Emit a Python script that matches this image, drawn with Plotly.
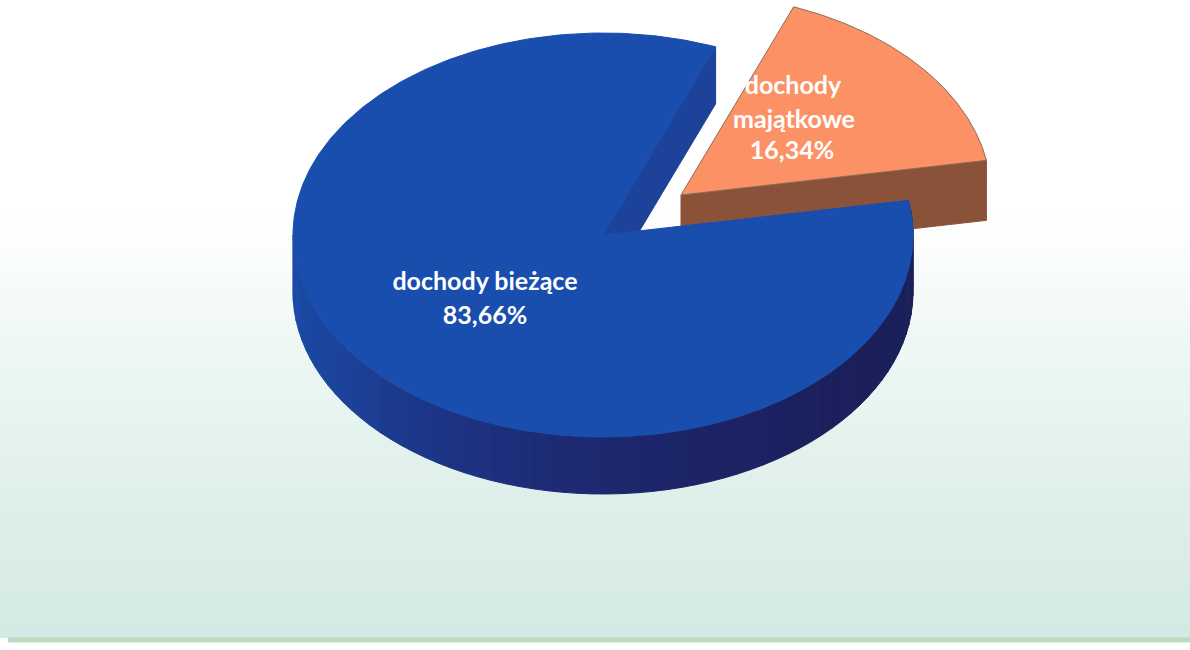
import numpy as np
import plotly.graph_objects as go

categories = ["dochody bieżące", "dochody majątkowe"]
values = [83.66, 16.34]

W, H = 1190, 650
CX, CY = 603, 235        # pie centre on the canvas
RX, RY = 310, 202        # tilted pie radii
DEPTH = 57
START = 21.3             # degrees clockwise from top where the small slice starts
EXPLODE = (78, -40)

TOP_BLUE = "#194eae"
WALL_BLUE = "#1c4399"
TOP_ORANGE = "#fd9166"
SIDE_ORANGE = "#8a5238"
EDGE_ORANGE = "#8c6a58"

sweep_small = values[1] / 100 * 360
end_small = START + sweep_small
end_big = START + 360


def rim(t_deg, cx, cy):
    t = np.radians(t_deg)
    return cx + RX * np.sin(t), cy - RY * np.cos(t)


def arc(a, b, cx, cy, n=120):
    return rim(np.linspace(a, b, n), cx, cy)


def poly(x, y, fill, line=None, lw=1):
    return go.Scatter(
        x=list(x) + [x[0]], y=list(y) + [y[0]], mode="lines", fill="toself",
        fillcolor=fill, line=dict(color=line or fill, width=lw),
        hoverinfo="skip", showlegend=False,
    )


fig = go.Figure()

# paper background
bg_y = [0, 200, 250, 300, 350, 400, 500, 600, 636]
bg_c = ["#ffffff", "#ffffff", "#fcfdfd", "#f4faf8", "#eef7f4", "#e8f5f1", "#dfefea", "#d7ebe5", "#d4e9e3"]
ymax = bg_y[-1]
fig.add_trace(go.Heatmap(
    x=[8, 1190], y=np.arange(0, ymax + 1, 4), z=[[v, v] for v in np.arange(0, ymax + 1, 4)],
    colorscale=[[a / ymax, c] for a, c in zip(bg_y, bg_c)], zmin=0, zmax=ymax,
    showscale=False, hoverinfo="skip",
))
fig.add_trace(go.Scatter(
    x=[8, 1190], y=[640, 640], mode="lines", line=dict(color="#bcdcc0", width=5),
    hoverinfo="skip", showlegend=False,
))

# small slice: front wall then top
ocx, ocy = CX + EXPLODE[0], CY + EXPLODE[1]
ax, ay = rim(np.array([end_small]), ocx, ocy)
fig.add_trace(poly([ocx, ax[0], ax[0], ocx], [ocy, ay[0], ay[0] + DEPTH + 3, ocy + DEPTH + 3], SIDE_ORANGE))
ox, oy = arc(START, end_small, ocx, ocy)
fig.add_trace(poly([ocx, *ox], [ocy, *oy], TOP_ORANGE, EDGE_ORANGE, 1))

# large slice: outer side, shaded left to right through the front
side_t = [270, 240, 210, 180, 150, 120, end_small]
side_c = [(27, 76, 170), (28, 68, 156), (29, 52, 132), (29, 40, 110), (28, 34, 98), (27, 32, 90), (26, 32, 88)]
edges = np.linspace(end_small, 270, 70)
for a, b in zip(edges[:-1], edges[1:]):
    m = (a + b) / 2
    rgb = [np.interp(m, side_t[::-1], [c[i] for c in side_c[::-1]]) for i in range(3)]
    col = "rgb(%d,%d,%d)" % tuple(rgb)
    x1, y1 = arc(a, b, CX, CY, 6)
    fig.add_trace(poly([*x1, *x1[::-1]], [*y1, *(y1[::-1] + DEPTH)], col))

# large slice: inner wall
sx, sy = rim(np.array([START]), CX, CY)
fig.add_trace(poly([CX, sx[0], sx[0], CX], [CY, sy[0], sy[0] + DEPTH, CY + DEPTH], WALL_BLUE))

# large slice: top
bx, by = arc(end_small, end_big, CX, CY, 400)
fig.add_trace(poly([CX, *bx], [CY, *by], TOP_BLUE))

# labels, one entry per line to hold the original line spacing
pct = [f"{v:.2f}".replace(".", ",") + "%" for v in values]
first, second = categories[1].split(" ")
fig.add_trace(go.Scatter(
    x=[485, 485, 793, 794, 792], y=[284, 318, 88, 122, 153],
    text=[categories[0], pct[0], first, second, pct[1]],
    mode="text", textposition="middle center",
    textfont=dict(family="Lato, Open Sans, sans-serif", size=25, color="#ffffff", weight="bold"),
    hoverinfo="skip", showlegend=False,
))

fig.update_layout(
    width=W, height=H, margin=dict(l=0, r=0, t=0, b=0),
    paper_bgcolor="#ffffff", plot_bgcolor="#ffffff",
    xaxis=dict(range=[0, W], visible=False, fixedrange=True),
    yaxis=dict(range=[H, 0], visible=False, fixedrange=True),
)
fig.write_html("out.html", config={"displayModeBar": False},
               post_script="document.body.style.margin='0';")
